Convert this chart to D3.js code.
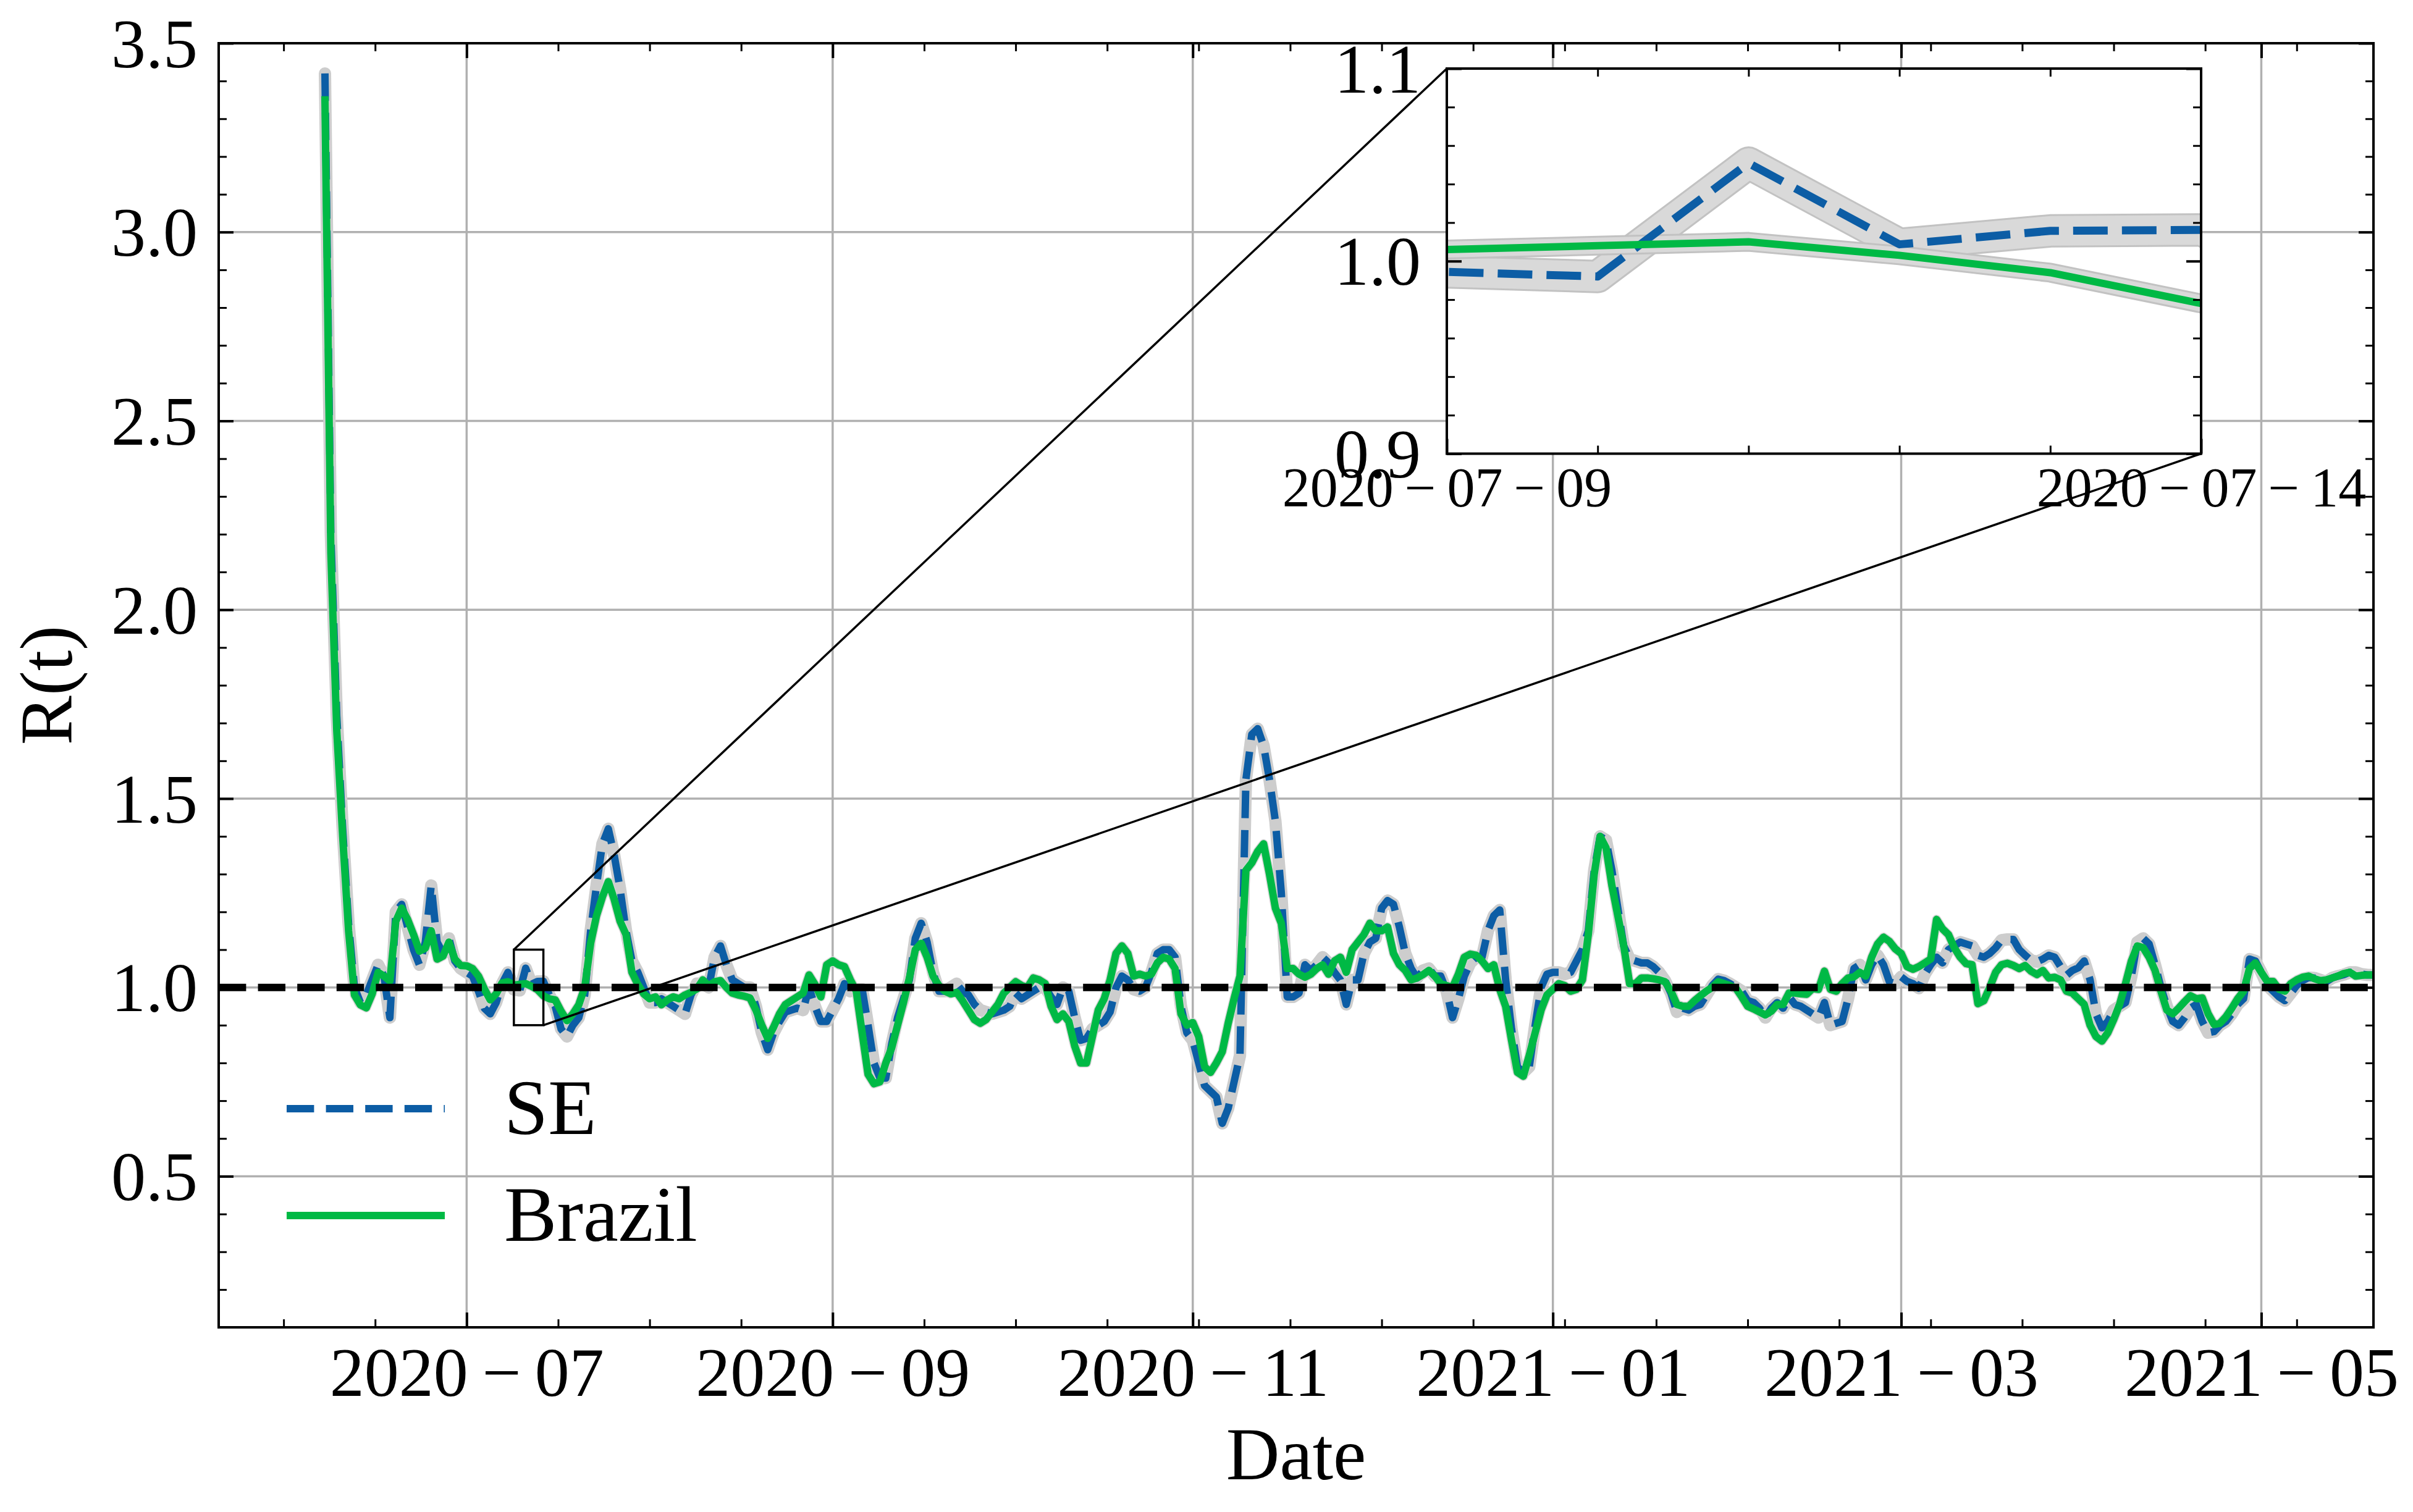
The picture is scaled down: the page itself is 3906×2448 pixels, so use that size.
<!DOCTYPE html>
<html>
<head>
<meta charset="utf-8">
<script src="https://cdn.jsdelivr.net/npm/d3@7"></script>
<style>
  html, body { margin: 0; padding: 0; background: #fff; }
  svg text { font-family: "Liberation Serif", "DejaVu Serif", serif; fill: #000; }
</style>
</head>
<body>
<div id="chart"></div>
<script>
// ---- data (daily values, starting at startDate) ----
const startDate = '2020-06-07';

const seValues = [
  3.42, 2.2, 1.72, 1.42, 1.17, 1.00, 0.96, 0.98, 1.02, 1.06,
  1.03, 0.92, 1.20, 1.22, 1.16, 1.10, 1.06, 1.12, 1.27, 1.12,
  1.09, 1.13, 1.07, 1.05, 1.04, 1.03, 0.99, 0.945, 0.93, 0.96,
  1.01, 1.04, 0.9944, 0.992, 1.0509, 1.0087, 1.0157, 1.0162, 0.98, 0.95,
  0.89, 0.87, 0.90, 0.92, 0.98, 1.15, 1.27, 1.38, 1.42, 1.35,
  1.26, 1.15, 1.07, 1.04, 1.00, 0.96, 0.96, 0.97, 0.96, 0.95,
  0.94, 0.93, 0.98, 1.01, 1.01, 1.00, 1.08, 1.11, 1.06, 1.02,
  1.01, 1.0, 1.0, 0.95, 0.88, 0.835, 0.88, 0.91, 0.935, 0.94,
  0.945, 0.94, 1.0, 0.95, 0.91, 0.91, 0.94, 0.97, 1.01, 0.99,
  0.995, 0.995, 0.90, 0.80, 0.76, 0.76, 0.85, 0.92, 0.97, 1.02,
  1.13, 1.17, 1.12, 1.04, 0.99, 0.99, 1.0, 1.01, 0.99, 0.98,
  0.955, 0.94, 0.935, 0.93, 0.935, 0.94, 0.95, 0.985, 0.97, 0.98,
  0.99, 1.0, 1.0, 0.975, 0.955, 1.0, 0.99, 0.92, 0.86, 0.865,
  0.89, 0.90, 0.91, 0.935, 1.0, 1.03, 1.02, 0.995, 0.99, 1.0,
  1.04, 1.09, 1.10, 1.10, 1.08, 0.95, 0.88, 0.86, 0.80, 0.74,
  0.725, 0.71, 0.64, 0.68, 0.75, 0.82, 1.55, 1.67, 1.685, 1.64,
  1.55, 1.44, 1.25, 0.975, 0.975, 0.985, 1.06, 1.045, 1.06, 1.08,
  1.065, 1.04, 1.02, 0.955, 1.02, 1.02, 1.09, 1.12, 1.13, 1.21,
  1.23, 1.22, 1.16, 1.09, 1.05, 1.025, 1.045, 1.05, 1.03, 1.03,
  0.99, 0.92, 0.97, 1.03, 1.065, 1.08, 1.08, 1.15, 1.19, 1.205,
  1.02, 0.89, 0.79, 0.775, 0.79, 0.90, 1.0, 1.035, 1.04, 1.04,
  1.035, 1.04, 1.07, 1.10, 1.15, 1.31, 1.40, 1.39, 1.31, 1.21,
  1.11, 1.075, 1.07, 1.065, 1.065, 1.055, 1.04, 1.018, 0.985, 0.935,
  0.945, 0.94, 0.95, 0.955, 0.98, 1.005, 1.022, 1.018, 1.01, 1.0,
  0.99, 0.965, 0.96, 0.945, 0.92, 0.945, 0.96, 0.945, 0.975, 0.955,
  0.95, 0.94, 0.93, 0.92, 0.96, 0.9, 0.905, 0.91, 0.97, 1.05,
  1.06, 1.02, 1.06, 1.085, 1.06, 1.015, 1.01, 1.028, 1.016, 1.01,
  0.998, 1.035, 1.06, 1.08, 1.065, 1.1, 1.11, 1.12, 1.115, 1.11,
  1.085, 1.08, 1.09, 1.105, 1.125, 1.127, 1.127, 1.1, 1.085, 1.072,
  1.068, 1.075, 1.085, 1.08, 1.055, 1.032, 1.045, 1.052, 1.07, 1.02,
  0.93, 0.893, 0.91, 0.94, 0.95, 0.96, 1.03, 1.12, 1.13, 1.115,
  1.06, 1.0, 0.95, 0.91, 0.9, 0.92, 0.945, 0.955, 0.91, 0.88,
  0.883, 0.9, 0.91, 0.93, 0.955, 0.97, 1.075, 1.07, 1.04, 1.005,
  0.99, 0.975, 0.965, 0.985, 1.005, 1.018, 1.026, 1.025, 1.02, 1.015,
  1.025, 1.03, 1.034, 1.04, 1.04, 1.035, 1.033, 1.033
];

const brazilValues = [
  3.35, 2.15, 1.68, 1.40, 1.15, 0.98, 0.954, 0.946, 0.983, 1.04,
  1.03, 1.017, 1.175, 1.21, 1.18, 1.14, 1.096, 1.104, 1.15, 1.075,
  1.083, 1.12, 1.075, 1.058, 1.057, 1.05, 1.03, 0.996, 0.967, 0.983,
  1.012, 1.015, 1.006, 1.008, 1.010, 1.003, 0.994, 0.978, 0.97, 0.967,
  0.937, 0.912, 0.93, 0.954, 1.0, 1.117, 1.19, 1.24, 1.28, 1.233,
  1.175, 1.14, 1.04, 1.008, 0.983, 0.97, 0.975, 0.954, 0.967, 0.975,
  0.97, 0.98, 0.987, 0.996, 1.02, 1.004, 1.015, 1.018, 1.0, 0.985,
  0.98, 0.977, 0.972, 0.94, 0.90, 0.865, 0.895, 0.93, 0.955, 0.965,
  0.975, 0.985, 1.033, 1.008, 0.975, 1.06, 1.07, 1.06, 1.055, 1.02,
  0.99, 0.88, 0.77, 0.745, 0.75, 0.80, 0.84, 0.90, 0.96, 1.025,
  1.10, 1.117, 1.08, 1.03, 1.005, 0.99, 0.983, 0.987, 0.965, 0.94,
  0.915, 0.905, 0.915, 0.935, 0.955, 0.985, 1.0, 1.015, 1.005, 1.0,
  1.025, 1.02, 1.01, 0.95, 0.915, 0.93, 0.91, 0.845, 0.80, 0.80,
  0.87, 0.94, 0.97, 1.02, 1.09, 1.11, 1.09, 1.03, 1.035, 1.03,
  1.035, 1.065, 1.08, 1.075, 1.05, 0.93, 0.90, 0.907, 0.87, 0.79,
  0.775, 0.80, 0.83, 0.905, 0.97, 1.03, 1.31, 1.33, 1.36, 1.38,
  1.30, 1.21, 1.17, 1.05, 1.05, 1.035, 1.027, 1.035, 1.05, 1.06,
  1.035, 1.07, 1.08, 1.04, 1.10, 1.12, 1.14, 1.17, 1.15, 1.15,
  1.16, 1.09, 1.06, 1.045, 1.02, 1.025, 1.034, 1.045, 1.03, 1.01,
  1.005, 1.0, 1.035, 1.08, 1.088, 1.085, 1.07, 1.05, 1.06, 0.995,
  0.95, 0.86, 0.775, 0.765, 0.82, 0.88, 0.94, 0.98, 0.995, 1.01,
  1.005, 0.99, 0.995, 1.02, 1.14, 1.30, 1.40, 1.37, 1.27, 1.19,
  1.11, 1.01, 1.01, 1.025, 1.025, 1.023, 1.02, 1.015, 0.99, 0.955,
  0.95, 0.95, 0.965, 0.978, 0.99, 1.0, 1.015, 1.01, 1.005, 0.998,
  0.975, 0.95, 0.943, 0.935, 0.927, 0.937, 0.955, 0.955, 0.985, 0.985,
  0.983, 0.982, 0.997, 0.995, 1.043, 0.995, 0.99, 1.01, 1.025, 1.028,
  1.04, 1.03, 1.08, 1.115, 1.133, 1.122, 1.102, 1.09, 1.055, 1.048,
  1.055, 1.065, 1.075, 1.18, 1.155, 1.14, 1.105, 1.08, 1.063, 1.06,
  0.957, 0.965, 1.0, 1.04, 1.06, 1.064, 1.058, 1.05, 1.058, 1.043,
  1.034, 1.045, 1.025, 1.027, 1.02, 0.99, 0.985, 0.97, 0.955, 0.9,
  0.87, 0.858, 0.88, 0.915, 0.955, 1.01, 1.07, 1.11, 1.105, 1.08,
  1.045, 0.99, 0.94, 0.93, 0.945, 0.962, 0.978, 0.97, 0.972, 0.93,
  0.902, 0.905, 0.922, 0.945, 0.97, 0.99, 1.05, 1.065, 1.04, 1.016,
  1.016, 0.995, 0.99, 1.01, 1.02, 1.027, 1.03, 1.023, 1.018, 1.02,
  1.025, 1.03, 1.037, 1.04, 1.03, 1.032, 1.033, 1.033
];

const seriesNames = ['SE', 'Brazil'];
const xDomain = ['2020-05-20', '2021-05-20'];
const xMajorTicks = ['2020-07-01', '2020-09-01', '2020-11-01', '2021-01-01', '2021-03-01', '2021-05-01'];
const yDomain = [0.1, 3.5];
const yMajorTicks = [0.5, 1.0, 1.5, 2.0, 2.5, 3.0, 3.5];
const refLevel = 1.0;
const insetRange = ['2020-07-09', '2020-07-14'];
const insetYDomain = [0.9, 1.1];
const insetYTicks = [0.9, 1.0, 1.1];

// ---- layout ----
const W = 3906, H = 2448;
const plot = { left: 354, right: 3842, top: 70, bottom: 2149 };
const inset = { left: 2342, right: 3563, top: 111, bottom: 734.5 };
const SE_COLOR = '#0C5DA5', BR_COLOR = '#00B945', GRID = '#b0b0b0';
const MAJOR = 24, MINOR = 13;

const parse = d3.utcParse('%Y-%m-%d');
const t0 = parse(startDate);
const toSeries = vals => vals.map((v, i) => ({ date: d3.utcDay.offset(t0, i), v }));
const seData = toSeries(seValues);
const brData = toSeries(brazilValues);

const svg = d3.select('#chart').append('svg')
  .attr('width', W).attr('height', H)
  .attr('viewBox', `0 0 ${W} ${H}`);
svg.append('rect').attr('width', W).attr('height', H).attr('fill', '#fff');

const x = d3.scaleUtc().domain(xDomain.map(parse)).range([plot.left, plot.right]);
const y = d3.scaleLinear().domain(yDomain).range([plot.bottom, plot.top]);

const defs = svg.append('defs');
defs.append('clipPath').attr('id', 'clipMain').append('rect')
  .attr('x', plot.left).attr('y', plot.top)
  .attr('width', plot.right - plot.left).attr('height', plot.bottom - plot.top);
defs.append('clipPath').attr('id', 'clipInset').append('rect')
  .attr('x', inset.left).attr('y', inset.top)
  .attr('width', inset.right - inset.left).attr('height', inset.bottom - inset.top);

// minor ticks: matplotlib AutoMinorLocator style (major step / 4, anchored at first major)
const majorDates = xMajorTicks.map(parse);
const minorStep = (majorDates[1] - majorDates[0]) / 4;
const xMinor = [];
for (let k = -10; k < 40; k++) {
  const t = new Date(+majorDates[0] + k * minorStep);
  if (t < x.domain()[0] || t > x.domain()[1]) continue;
  if (majorDates.some(m => Math.abs(m - t) < 3600e3)) continue;
  xMinor.push(t);
}
const yMinor = d3.range(1, 35).map(i => +(i / 10).toFixed(1))
  .filter(v => v >= yDomain[0] && v <= yDomain[1] && !yMajorTicks.some(m => Math.abs(m - v) < 1e-6));

// ---- grid ----
const grid = svg.append('g').attr('stroke', GRID).attr('stroke-width', 3.5);
grid.selectAll('line.gx').data(majorDates).join('line')
  .attr('x1', d => x(d)).attr('x2', d => x(d)).attr('y1', plot.top).attr('y2', plot.bottom);
grid.selectAll('line.gy').data(yMajorTicks).join('line')
  .attr('x1', plot.left).attr('x2', plot.right).attr('y1', d => y(d)).attr('y2', d => y(d));

// ---- series ----
const line = d3.line().x(d => x(d.date)).y(d => y(d.v));
const main = svg.append('g').attr('clip-path', 'url(#clipMain)');

main.append('path').datum(seData).attr('d', line)
  .attr('fill', 'none').attr('stroke', '#cdcdcd').attr('stroke-width', 20)
  .attr('stroke-linejoin', 'round').attr('stroke-linecap', 'round');
main.append('path').datum(brData).attr('d', line)
  .attr('fill', 'none').attr('stroke', '#d4d4d4').attr('stroke-width', 15)
  .attr('stroke-linejoin', 'round').attr('stroke-linecap', 'round');
main.append('path').datum(seData).attr('d', line)
  .attr('fill', 'none').attr('stroke', SE_COLOR).attr('stroke-width', 12)
  .attr('stroke-dasharray', '44.4 19.2').attr('stroke-linejoin', 'round');
main.append('path').datum(brData).attr('d', line)
  .attr('fill', 'none').attr('stroke', BR_COLOR).attr('stroke-width', 12)
  .attr('stroke-linejoin', 'round').attr('stroke-linecap', 'square');

// reference line R = 1
main.append('line')
  .attr('x1', plot.left).attr('x2', plot.right)
  .attr('y1', y(refLevel)).attr('y2', y(refLevel))
  .attr('stroke', '#000').attr('stroke-width', 12).attr('stroke-dasharray', '44.4 19.2');

// ---- axes (ticks inward on all four sides) ----
const fmtX = d => d3.utcFormat('%Y')(d) + '\u2009\u2212\u2009' + d3.utcFormat('%m')(d);
function tickGroup(axis, transform) {
  const g = svg.append('g').attr('transform', transform).call(axis);
  g.select('.domain').remove();
  g.selectAll('.tick line').attr('stroke', '#000');
  return g;
}
const bx = tickGroup(d3.axisBottom(x).tickValues(majorDates).tickSize(-MAJOR).tickPadding(31).tickFormat(fmtX),
  `translate(0,${plot.bottom})`);
bx.selectAll('.tick line').attr('stroke-width', 4);
bx.selectAll('text').attr('font-size', 112).attr('font-family', '"Liberation Serif", serif');
tickGroup(d3.axisBottom(x).tickValues(xMinor).tickSize(-MINOR).tickFormat(''), `translate(0,${plot.bottom})`)
  .selectAll('.tick line').attr('stroke-width', 3);
tickGroup(d3.axisTop(x).tickValues(majorDates).tickSize(-MAJOR).tickFormat(''), `translate(0,${plot.top})`)
  .selectAll('.tick line').attr('stroke-width', 4);
tickGroup(d3.axisTop(x).tickValues(xMinor).tickSize(-MINOR).tickFormat(''), `translate(0,${plot.top})`)
  .selectAll('.tick line').attr('stroke-width', 3);

const ly = tickGroup(d3.axisLeft(y).tickValues(yMajorTicks).tickSize(-MAJOR).tickPadding(34).tickFormat(d3.format('.1f')),
  `translate(${plot.left},0)`);
ly.selectAll('.tick line').attr('stroke-width', 4);
ly.selectAll('text').attr('font-size', 112).attr('dy', '0.34em').attr('font-family', '"Liberation Serif", serif');
tickGroup(d3.axisLeft(y).tickValues(yMinor).tickSize(-MINOR).tickFormat(''), `translate(${plot.left},0)`)
  .selectAll('.tick line').attr('stroke-width', 3);
tickGroup(d3.axisRight(y).tickValues(yMajorTicks).tickSize(-MAJOR).tickFormat(''), `translate(${plot.right},0)`)
  .selectAll('.tick line').attr('stroke-width', 4);
tickGroup(d3.axisRight(y).tickValues(yMinor).tickSize(-MINOR).tickFormat(''), `translate(${plot.right},0)`)
  .selectAll('.tick line').attr('stroke-width', 3);

svg.append('rect')
  .attr('x', plot.left).attr('y', plot.top)
  .attr('width', plot.right - plot.left).attr('height', plot.bottom - plot.top)
  .attr('fill', 'none').attr('stroke', '#000').attr('stroke-width', 4);

// axis labels
svg.append('text').attr('x', (plot.left + plot.right) / 2).attr('y', 2395)
  .attr('text-anchor', 'middle').attr('font-size', 120).text('Date');
svg.append('text').attr('transform', `translate(116,${(plot.top + plot.bottom) / 2}) rotate(-90)`)
  .attr('text-anchor', 'middle').attr('font-size', 120).text('R(t)');

// ---- legend ----
const legend = svg.append('g');
const legendRows = [
  { name: seriesNames[0], color: SE_COLOR, dash: '44.4 19.2', y: 1795 },
  { name: seriesNames[1], color: BR_COLOR, dash: null, y: 1968 }
];
legendRows.forEach(r => {
  legend.append('line').attr('x1', 464).attr('x2', 720).attr('y1', r.y).attr('y2', r.y)
    .attr('stroke', r.color).attr('stroke-width', 12)
    .attr('stroke-dasharray', r.dash);
  legend.append('text').attr('x', 816).attr('y', r.y + 41)
    .attr('font-size', 128).text(r.name);
});

// ---- zoom indicator ----
const i0 = parse(insetRange[0]), i1 = parse(insetRange[1]);
svg.append('rect')
  .attr('x', x(i0)).attr('y', y(insetYDomain[1]))
  .attr('width', x(i1) - x(i0)).attr('height', y(insetYDomain[0]) - y(insetYDomain[1]))
  .attr('fill', 'none').attr('stroke', '#000').attr('stroke-width', 3.5);
svg.append('line')
  .attr('x1', x(i0)).attr('y1', y(insetYDomain[1])).attr('x2', inset.left).attr('y2', inset.top)
  .attr('stroke', '#000').attr('stroke-width', 3.5);
svg.append('line')
  .attr('x1', x(i1)).attr('y1', y(insetYDomain[0])).attr('x2', inset.right).attr('y2', inset.bottom)
  .attr('stroke', '#000').attr('stroke-width', 3.5);

// ---- inset ----
const xi = d3.scaleUtc().domain([i0, i1]).range([inset.left, inset.right]);
const yi = d3.scaleLinear().domain(insetYDomain).range([inset.bottom, inset.top]);
const lineI = d3.line().x(d => xi(d.date)).y(d => yi(d.v));
const inSlice = data => data.filter(d => d.date >= d3.utcDay.offset(i0, -1) && d.date <= d3.utcDay.offset(i1, 1));

svg.append('rect')
  .attr('x', inset.left).attr('y', inset.top)
  .attr('width', inset.right - inset.left).attr('height', inset.bottom - inset.top)
  .attr('fill', '#fff');
const ig = svg.append('g').attr('clip-path', 'url(#clipInset)');
[[seData, 48], [brData, 26]].forEach(([data, wd]) => {
  ig.append('path').datum(inSlice(data)).attr('d', lineI)
    .attr('fill', 'none').attr('stroke', '#c2c2c2').attr('stroke-width', wd + 6)
    .attr('stroke-linejoin', 'round');
  ig.append('path').datum(inSlice(data)).attr('d', lineI)
    .attr('fill', 'none').attr('stroke', '#d9d9d9').attr('stroke-width', wd)
    .attr('stroke-linejoin', 'round');
});
ig.append('path').datum(inSlice(seData)).attr('d', lineI)
  .attr('fill', 'none').attr('stroke', SE_COLOR).attr('stroke-width', 13)
  .attr('stroke-dasharray', '56 23').attr('stroke-dashoffset', 30).attr('stroke-linejoin', 'round');
ig.append('path').datum(inSlice(brData)).attr('d', lineI)
  .attr('fill', 'none').attr('stroke', BR_COLOR).attr('stroke-width', 12)
  .attr('stroke-linejoin', 'round');

const insetDays = d3.utcDay.range(i0, d3.utcDay.offset(i1, 1));
const insetInnerDays = insetDays.slice(1, -1);
const insetYMinor = d3.range(1, 10).map(i => +(0.9 + i * 0.02).toFixed(2)).filter(v => Math.abs(v - 1.0) > 1e-6);

const ibx = tickGroup(d3.axisBottom(xi).tickValues([i0, i1]).tickSize(-MAJOR).tickPadding(22)
  .tickFormat(d => d3.utcFormat('%Y')(d) + '\u2009\u2212\u2009' + d3.utcFormat('%m')(d) + '\u2009\u2212\u2009' + d3.utcFormat('%d')(d)),
  `translate(0,${inset.bottom})`);
ibx.selectAll('.tick line').attr('stroke-width', 4);
ibx.selectAll('text').attr('font-size', 90).attr('font-family', '"Liberation Serif", serif');
tickGroup(d3.axisBottom(xi).tickValues(insetInnerDays).tickSize(-MINOR).tickFormat(''), `translate(0,${inset.bottom})`)
  .selectAll('.tick line').attr('stroke-width', 3);
tickGroup(d3.axisTop(xi).tickValues(insetInnerDays).tickSize(-MINOR).tickFormat(''), `translate(0,${inset.top})`)
  .selectAll('.tick line').attr('stroke-width', 3);

const ily = tickGroup(d3.axisLeft(yi).tickValues(insetYTicks).tickSize(-MAJOR).tickPadding(42).tickFormat(d3.format('.1f')),
  `translate(${inset.left},0)`);
ily.selectAll('.tick line').attr('stroke-width', 4);
ily.selectAll('text').attr('font-size', 112).attr('dy', '0.34em').attr('font-family', '"Liberation Serif", serif');
tickGroup(d3.axisLeft(yi).tickValues(insetYMinor).tickSize(-MINOR).tickFormat(''), `translate(${inset.left},0)`)
  .selectAll('.tick line').attr('stroke-width', 3);
tickGroup(d3.axisRight(yi).tickValues(insetYTicks).tickSize(-MAJOR).tickFormat(''), `translate(${inset.right},0)`)
  .selectAll('.tick line').attr('stroke-width', 4);
tickGroup(d3.axisRight(yi).tickValues(insetYMinor).tickSize(-MINOR).tickFormat(''), `translate(${inset.right},0)`)
  .selectAll('.tick line').attr('stroke-width', 3);

svg.append('rect')
  .attr('x', inset.left).attr('y', inset.top)
  .attr('width', inset.right - inset.left).attr('height', inset.bottom - inset.top)
  .attr('fill', 'none').attr('stroke', '#000').attr('stroke-width', 4);
</script>
</body>
</html>
